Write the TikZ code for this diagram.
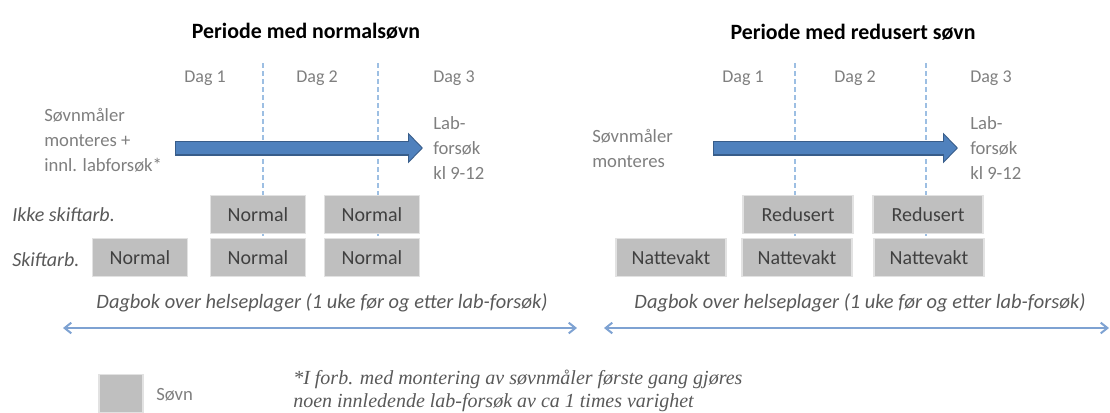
\documentclass[tikz,border=0pt]{standalone}
\usepackage{fontspec}
\setmainfont{Carlito}
\newfontfamily\notefont{Liberation Serif}
\usetikzlibrary{arrows.meta}
\definecolor{sovngraa}{HTML}{BFBFBF}
\definecolor{kantgraa}{HTML}{E2E2E2}
\definecolor{tekstgraa}{HTML}{7F7F7F}
\definecolor{morkgraa}{HTML}{404040}
\definecolor{radgraa}{HTML}{595959}
\definecolor{pilkant}{HTML}{385D8A}
\definecolor{pilbla}{HTML}{4F81BD}
\definecolor{linjebla}{HTML}{7EA2D2}
\definecolor{skillebla}{HTML}{9DBFE3}
\tikzset{
  tittel/.style={font=\fontsize{16.4}{19}\selectfont\bfseries,text=black,inner sep=0pt},
  dag/.style={font=\fontsize{13.5}{16}\selectfont,text=tekstgraa,inner sep=0pt},
  tekst/.style={font=\fontsize{14}{18.75}\selectfont,text=tekstgraa,align=left,inner sep=0pt,anchor=west},
  radtekst/.style={font=\fontsize{15}{17}\selectfont\itshape,text=radgraa,inner sep=0pt,anchor=west},
  dagbok/.style={font=\fontsize{15.3}{17}\selectfont\itshape,text=radgraa,inner sep=0pt},
  fotnote/.style={font=\notefont\fontsize{15}{17.5}\selectfont\itshape,text=radgraa,align=left,inner sep=0pt,anchor=west},
  sovnbox/.style={fill=sovngraa,draw=kantgraa,line width=1.2pt,minimum width=#1,minimum height=28.5pt,
    inner sep=0pt,text=morkgraa,font=\fontsize{15}{17}\selectfont},
  sovnbox/.default=71pt,
  dagskille/.style={draw=skillebla,line width=1.6pt,dash pattern=on 3.5pt off 2.5pt},
  tidspil/.style={draw=pilkant,line width=11.25pt,-{Triangle[length=11.25pt,width=22.5pt]}},
  tidspilinne/.style={draw=pilbla,line width=9pt,shorten <=0.9pt,shorten >=1.1pt,-{Triangle[length=9.4pt,width=18.8pt]}},
  periode/.style={draw=linjebla,line width=1.5pt,{Straight Barb[length=5pt,width=8pt]}-{Straight Barb[length=5pt,width=8pt]}}
}
\begin{document}
\begin{tikzpicture}[x=0.75pt,y=-0.75pt]
\useasboundingbox (0,0) rectangle (1110,412);
% overskrifter
\node[tittel] (tittelA) at (306,31) {Periode med normalsøvn};
\node[tittel] (tittelB) at (853,32) {Periode med redusert søvn};
% skille mellom dagene
\foreach \x/\n in {263/skA1,378/skA2,795/skB1,926/skB2}
	\coordinate (\n) at (\x,63);
\foreach \n in {skA1,skA2,skB1,skB2}
	\draw[dagskille] (\n) -- ++(0,174);
\node[dag] (dagA1) at (205,78) {Dag 1};
\node[dag] (dagA2) at (317,78) {Dag 2};
\node[dag,anchor=west] (dagA3) at (433,78) {Dag 3};
\node[dag] (dagB1) at (743,78) {Dag 1};
\node[dag] (dagB2) at (855,78) {Dag 2};
\node[dag,anchor=west] (dagB3) at (970,78) {Dag 3};
% tidslinje normal
\node[tekst] (startA) at (44,140) {Søvnmåler\\monteres +\\innl. labforsøk*};
\node[tekst] (labA) at (433,148) {Lab-\\forsøk\\kl 9-12};
\coordinate (pilA0) at (175,148);
\coordinate (pilA1) at (423,148);
\draw[tidspil] (pilA0) -- (pilA1);
\draw[tidspilinne] (pilA0) -- (pilA1);
% tidslinje redusert
\node[tekst] (startB) at (592,148) {Søvnmåler\\monteres};
\node[tekst] (labB) at (970,148) {Lab-\\forsøk\\kl 9-12};
\coordinate (pilB0) at (713,148);
\coordinate (pilB1) at (958,148);
\draw[tidspil] (pilB0) -- (pilB1);
\draw[tidspilinne] (pilB0) -- (pilB1);
% rader
\node[radtekst] (ikkeskift) at (12,215) {Ikke skiftarb.};
\node[radtekst] (skift) at (12,260) {Skiftarb.};
\node[sovnbox] (ikkeA1) at (258,214.5) {Normal};
\node[sovnbox] (ikkeA2) at (372,214.5) {Normal};
\node[sovnbox] (skiftA0) at (140,257.5) {Normal};
\node[sovnbox] (skiftA1) at (258,257.5) {Normal};
\node[sovnbox] (skiftA2) at (372,257.5) {Normal};
\node[sovnbox=82.5pt] (ikkeB1) at (798,214.5) {Redusert};
\node[sovnbox=82.5pt] (ikkeB2) at (928,214.5) {Redusert};
\node[sovnbox=82.5pt] (skiftB0) at (671,257.5) {Nattevakt};
\node[sovnbox=82.5pt] (skiftB1) at (797,257.5) {Nattevakt};
\node[sovnbox=82.5pt] (skiftB2) at (929,257.5) {Nattevakt};
% dagbok
\node[dagbok] (dagbokA) at (322,303) {Dagbok over helseplager (1 uke før og etter lab-forsøk)};
\node[dagbok] (dagbokB) at (860,303) {Dagbok over helseplager (1 uke før og etter lab-forsøk)};
\coordinate (dbA0) at (63,328);
\coordinate (dbA1) at (577,328);
\coordinate (dbB0) at (604,328);
\coordinate (dbB1) at (1109,328);
\draw[periode] (dbA0) -- (dbA1);
\draw[periode] (dbB0) -- (dbB1);
% forklaring
\node[sovnbox=33pt] (forklaring) at (121,393.5) {};
\node[tekst] (forklaringtekst) at (156,395) {Søvn};
\node[fotnote] (fotnote) at (293,391) {*I forb. med montering av søvnmåler første gang gjøres\\noen innledende lab-forsøk av ca 1 times varighet};
\end{tikzpicture}
\end{document}
